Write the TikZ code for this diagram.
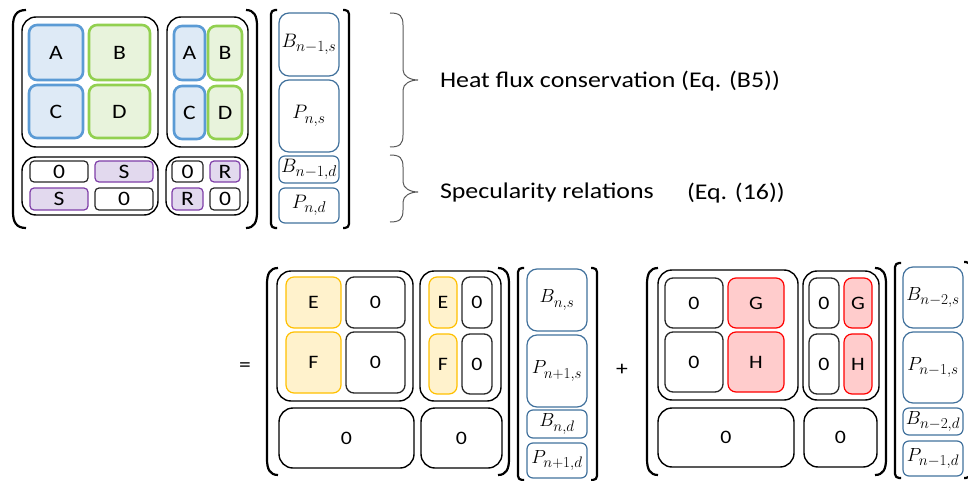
\RequirePackage{fix-cm}
\documentclass[tikz,border=0pt]{standalone}
\usepackage{graphicx}
\usepackage{fontspec}
\setmainfont{Carlito}[FakeStretch=1.15]
\definecolor{cblue}{HTML}{5B9BD5}
\definecolor{cbluef}{HTML}{DEEAF6}
\definecolor{cgreen}{HTML}{92D050}
\definecolor{cgreenf}{HTML}{E8F3DC}
\definecolor{cpurple}{HTML}{7F3FA8}
\definecolor{cpurplef}{HTML}{E2D9EE}
\definecolor{cyellow}{HTML}{FFC000}
\definecolor{cyellowf}{HTML}{FFF2CC}
\definecolor{cred}{HTML}{FF0000}
\definecolor{credf}{HTML}{FFCCCC}
\definecolor{cvec}{HTML}{41719C}
\definecolor{cbrace}{HTML}{595959}
\newcommand{\cell}[7]{\node[#2, minimum width={(#5-#3)*1pt}, minimum height={(#6-#4)*1pt}] (#1) at ({(#3+#5)/2},{(#4+#6)/2}) {#7};}
\newcommand{\vb}[2]{$#1_{\raisebox{-1.5pt}{\scalebox{0.8}{$#2$}}}$}
\newcommand{\lparen}[4]{\draw[paren] (#2,#3) .. controls ({#1+0.25*(#2-#1)},#3) and (#1,{#3+6}) .. (#1,{#3+16}) -- (#1,{#4-16}) .. controls (#1,{#4-6}) and ({#1+0.25*(#2-#1)},#4) .. (#2,#4);}
\newcommand{\sqbrack}[4]{\draw[paren, rounded corners=4pt] (#2,#3) -- (#1,#3) -- (#1,#4) -- (#2,#4);}
\newcommand{\mybrace}[4]{\draw[bracestyle] (#1,#2) .. controls ({#1+10},#2) and ({#1+13},{#2+3}) .. ({#1+13},{#2+12}) -- ({#1+13},{#3-10}) .. controls ({#1+13},{#3-4}) and ({#1+20},#3) .. ({#1+28},#3) .. controls ({#1+20},#3) and ({#1+13},{#3+4}) .. ({#1+13},{#3+10}) -- ({#1+13},{#4-12}) .. controls ({#1+13},{#4-3}) and ({#1+10},#4) .. (#1,#4);}
\begin{document}
\begin{tikzpicture}[x=1pt,y=-1pt,
  every node/.style={inner sep=0pt, outer sep=0pt},
  bigf/.style={font=\fontsize{20.5}{24}\selectfont},
  smallf/.style={font=\fontsize{19}{22}\selectfont},
  outer/.style={draw=black, line width=1.4pt, rounded corners=14pt},
  bcell/.style={draw=cblue, fill=cbluef, line width=2.6pt, rounded corners=8pt, bigf},
  gcell/.style={draw=cgreen, fill=cgreenf, line width=2.6pt, rounded corners=8pt, bigf},
  pcell/.style={draw=cpurple, fill=cpurplef, line width=1.2pt, rounded corners=4pt, bigf},
  zcell/.style={draw=black!85, line width=1.2pt, rounded corners=4pt, bigf},
  zbig/.style={draw=black!85, line width=1.3pt, rounded corners=8pt, smallf},
  ycell/.style={draw=cyellow, fill=cyellowf, line width=1.2pt, rounded corners=8pt, smallf},
  rcell/.style={draw=cred, fill=credf, line width=1.2pt, rounded corners=8pt, smallf},
  vbox/.style={draw=cvec, line width=1.2pt, rounded corners=10pt, font=\fontsize{19.5}{22}\selectfont},
  vsmall/.style={draw=cvec, line width=1.2pt, rounded corners=6pt, font=\fontsize{19.5}{22}\selectfont},
  vboxb/.style={vbox, font=\fontsize{19}{22}\selectfont},
  vsmallb/.style={vsmall, font=\fontsize{19}{22}\selectfont},
  paren/.style={draw=black, line width=2.2pt},
  bracestyle/.style={draw=cbrace, line width=1pt},
  label/.style={anchor=west, font=\fontsize{22.5}{26}\selectfont}
]
\useasboundingbox (0,0) rectangle (968,481);

% ---------- top matrix ----------
\lparen{13}{26}{10}{228}
\lparen{257}{246}{10}{228}
\cell{tc1}{outer}{22}{17}{158}{147}{}
\cell{tA}{bcell}{29}{25}{83}{80}{A}
\cell{tB}{gcell}{89}{25}{150}{80}{B}
\cell{tC}{bcell}{29}{85}{83}{138}{C}
\cell{tD}{gcell}{89}{85}{150}{138}{D}
\cell{tc2}{outer}{167}{17}{248}{147}{}
\cell{tA2}{bcell}{174}{26}{205}{80}{A}
\cell{tB2}{gcell}{208}{26}{242}{80}{B}
\cell{tC2}{bcell}{174}{86}{205}{139}{C}
\cell{tD2}{gcell}{208}{86}{242}{139}{D}
\cell{tc3}{outer}{22}{157}{158}{215}{}
\cell{tz1}{zcell}{30}{161}{88}{182}{0}
\cell{tS1}{pcell}{95}{161}{153}{182}{S}
\cell{tS2}{pcell}{30}{188}{88}{210}{S}
\cell{tz2}{zcell}{95}{188}{153}{210}{0}
\cell{tc4}{outer}{166}{157}{248}{215}{}
\cell{tz3}{zcell}{172}{161}{203}{182}{0}
\cell{tR1}{pcell}{210}{161}{240}{182}{R}
\cell{tR2}{pcell}{172}{188}{203}{210}{R}
\cell{tz4}{zcell}{210}{188}{240}{210}{0}

% top vector
\sqbrack{271}{277}{10}{228}
\sqbrack{349}{343}{10}{228}
\cell{tv1}{vbox}{279}{13}{339}{76}{\vb{B}{n{-}1{,}s}}
\cell{tv2}{vbox}{279}{80}{339}{152}{\vb{P}{n{,}s}}
\cell{tv3}{vsmall}{279}{156}{339}{183}{\vb{B}{n{-}1{,}d}}
\cell{tv4}{vsmall}{279}{188}{339}{223}{\vb{P}{n{,}d}}

% braces and labels
\mybrace{390}{13}{80}{147}
\mybrace{390}{155}{192}{222}
\node[label] (heat) at (440,81) {Heat flux conservation (Eq. (B5))};
\node[label] (spec) at (440,193) {Specularity relations};
\node[label] (eq16) at (687,193) {(Eq. (16))};

% ---------- bottom left ----------
\node[bigf] (eq) at (245,367) {=};
\lparen{267}{278}{268}{475}
\lparen{509}{498}{268}{475}
\cell{e1}{outer}{277}{271}{413}{401}{}
\cell{eE}{ycell}{286}{277}{341}{328}{E}
\cell{ez1}{zbig}{346}{277}{405}{328}{0}
\cell{eF}{ycell}{286}{332}{341}{393}{F}
\cell{ez2}{zbig}{346}{332}{405}{393}{0}
\cell{e2}{outer}{420}{271}{501}{401}{}
\cell{eE2}{ycell}{429}{277}{457}{328}{E}
\cell{ez3}{zbig}{462}{277}{492}{328}{0}
\cell{eF2}{ycell}{429}{334}{457}{394}{F}
\cell{ez4}{zbig}{462}{334}{492}{394}{0}
\cell{e3}{outer}{279}{408}{414}{468}{\fontsize{19}{22}\selectfont 0}
\cell{e4}{outer}{421}{408}{502}{468}{\fontsize{19}{22}\selectfont 0}
\sqbrack{518}{524}{268}{480}
\sqbrack{597}{591}{268}{480}
\cell{ev1}{vboxb}{527}{269}{587}{331}{\vb{B}{n{,}s}}
\cell{ev2}{vboxb}{527}{335}{587}{407}{\vb{P}{n{+}1{,}s}}
\cell{ev3}{vsmallb}{527}{410}{587}{438}{\vb{B}{n{,}d}}
\cell{ev4}{vsmallb}{527}{443}{587}{478}{\vb{P}{n{+}1{,}d}}

% ---------- bottom right ----------
\node[bigf] (plus) at (622,370) {+};
\lparen{647}{658}{268}{475}
\lparen{886}{875}{268}{475}
\cell{g1}{outer}{658}{270}{798}{400}{}
\cell{gz1}{zbig}{665}{278}{723}{328}{0}
\cell{gG}{rcell}{728}{278}{784}{328}{G}
\cell{gz2}{zbig}{665}{332}{723}{392}{0}
\cell{gH}{rcell}{728}{332}{784}{392}{H}
\cell{g2}{outer}{803}{271}{879}{400}{}
\cell{gz3}{zbig}{809}{278}{839}{328}{0}
\cell{gG2}{rcell}{844}{278}{872}{328}{G}
\cell{gz4}{zbig}{809}{334}{839}{394}{0}
\cell{gH2}{rcell}{844}{334}{872}{394}{H}
\cell{g3}{outer}{658}{408}{794}{467}{\fontsize{19}{22}\selectfont 0}
\cell{g4}{outer}{804}{408}{877}{467}{\fontsize{19}{22}\selectfont 0}
\sqbrack{895}{901}{263}{478}
\sqbrack{970}{964}{262}{478}
\cell{gv1}{vboxb}{903}{267}{963}{328}{\vb{B}{n{-}2{,}s}}
\cell{gv2}{vboxb}{903}{332}{963}{403}{\vb{P}{n{-}1{,}s}}
\cell{gv3}{vsmallb}{903}{408}{963}{435}{\vb{B}{n{-}2{,}d}}
\cell{gv4}{vsmallb}{903}{441}{963}{476}{\vb{P}{n{-}1{,}d}}
\end{tikzpicture}
\end{document}
